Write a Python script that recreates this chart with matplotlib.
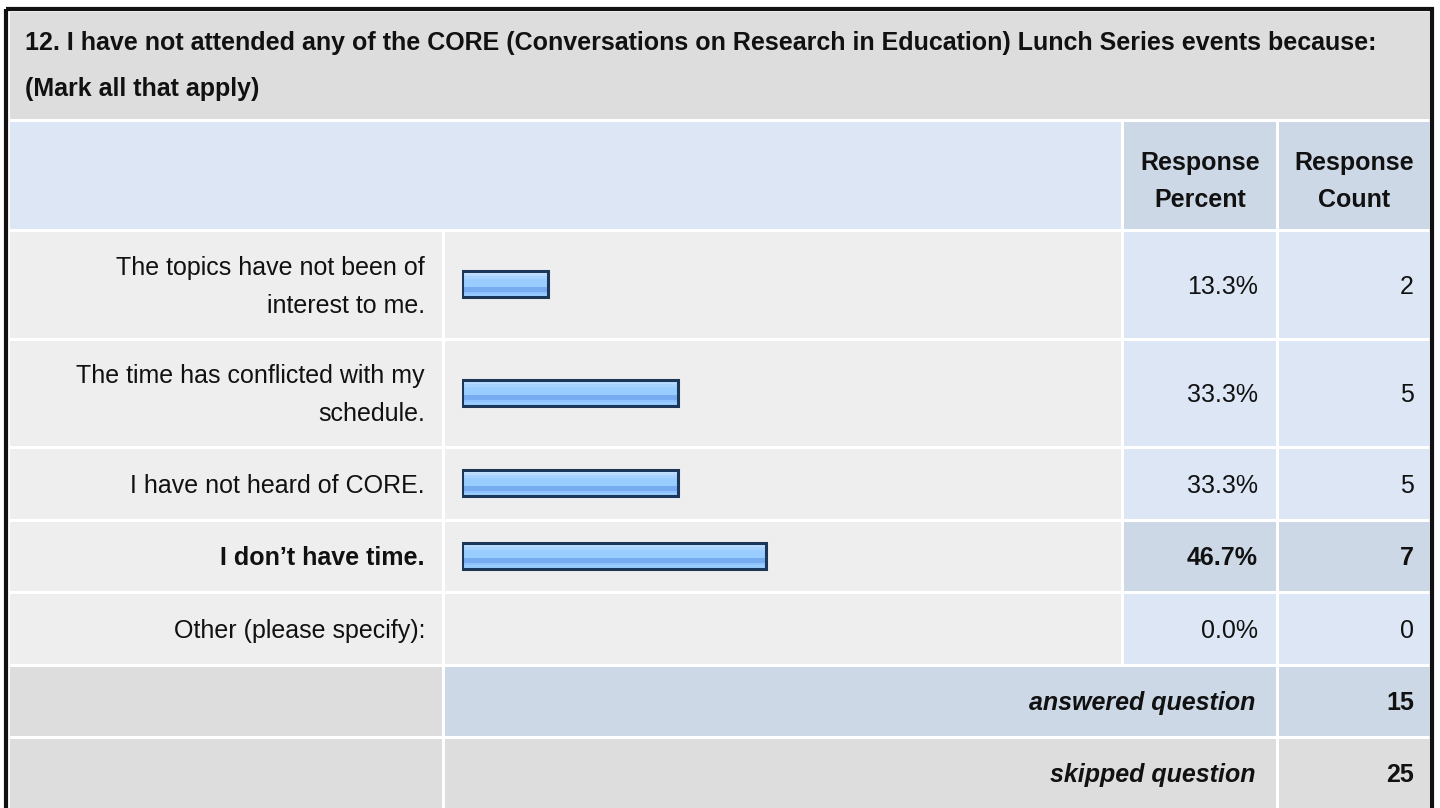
import numpy as np
import matplotlib
matplotlib.use("Agg")
import matplotlib.pyplot as plt
from matplotlib.patches import Rectangle

plt.rcParams['font.family'] = ['Liberation Sans', 'DejaVu Sans']

# data
title_lines = ["12. I have not attended any of the CORE (Conversations on Research in Education) Lunch Series events because:",
               "(Mark all that apply)"]
answers = ["The topics have not been of\ninterest to me.",
           "The time has conflicted with my\nschedule.",
           "I have not heard of CORE.",
           "I don\u2019t have time.",
           "Other (please specify):"]
percents = [13.3, 33.3, 33.3, 46.7, 0.0]
counts = [2, 5, 5, 7, 0]
answered = 15
skipped = 25

FS = 18
CAP = 0.716 * FS / 0.72  # cap height in px

W, H = 1440, 808
fig = plt.figure(figsize=(14.4, 8.08), dpi=100)
fig.patch.set_facecolor('white')
ax = fig.add_axes([0, 0, 1, 1])
ax.set_xlim(0, W)
ax.set_ylim(H, 0)
ax.axis('off')

GRAY = '#dddddd'
LIGHT = '#eeeeee'
BLUE = '#dce6f4'
BLUE2 = '#ccd8e6'

# column edges
cols = [(10, 442), (445, 1121), (1124, 1276), (1279, 1430)]
# row edges
title_row = (12, 119)
head_row = (122, 229)
rows = [(232, 338), (341, 446), (449, 519), (522, 591), (594, 664)]
ans_row = (667, 736)
skip_row = (739, 808)
best = int(np.argmax(percents))


def cell(x0, x1, y0, y1, color):
    ax.add_patch(Rectangle((x0, y0), x1 - x0, y1 - y0, facecolor=color, edgecolor='none'))


def put(x, yc, s, ha='right', **kw):
    ax.text(x, yc + CAP / 2, s, ha=ha, va='baseline', fontsize=FS, color='#111111', **kw)


# outer frame
ax.add_patch(Rectangle((6, 9), 1426, 820, facecolor='none', edgecolor='#111111', linewidth=3))

# title
cell(10, 1430, *title_row, GRAY)
for i, line in enumerate(title_lines):
    ax.text(25, 50 + i * 46, line, ha='left', va='baseline', fontsize=FS, fontweight='bold', color='#111111')

# header
cell(10, 1121, *head_row, BLUE)
cell(*cols[2], *head_row, BLUE2)
cell(*cols[3], *head_row, BLUE2)
for (x0, x1), txt in zip(cols[2:], ["Response\nPercent", "Response\nCount"]):
    for j, line in enumerate(txt.split('\n')):
        put((x0 + x1) / 2, 161 + j * 37, line, ha='center', fontweight='bold')

# answer rows
centers = []
for i, (y0, y1) in enumerate(rows):
    yc = (y0 + y1) / 2
    centers.append(yc)
    hi = (i == best)
    cell(*cols[0], y0, y1, LIGHT)
    cell(*cols[1], y0, y1, LIGHT)
    cell(*cols[2], y0, y1, BLUE2 if hi else BLUE)
    cell(*cols[3], y0, y1, BLUE2 if hi else BLUE)
    wt = 'bold' if hi else 'normal'
    lines = answers[i].split('\n')
    n = len(lines)
    for j, line in enumerate(lines):
        put(425, yc + (j - (n - 1) / 2) * 38, line, fontweight=wt)
    put(1258, yc, f"{percents[i]:.1f}%", fontweight=wt)
    put(1414, yc, str(counts[i]), fontweight=wt)

# summary rows
cell(*cols[0], *ans_row, GRAY)
cell(445, 1276, *ans_row, BLUE2)
cell(*cols[3], *ans_row, BLUE2)
yc = sum(ans_row) / 2
put(1255, yc, "answered question", fontweight='bold', fontstyle='italic')
put(1414, yc, str(answered), fontweight='bold')

cell(*cols[0], *skip_row, GRAY)
cell(445, 1276, *skip_row, GRAY)
cell(*cols[3], *skip_row, GRAY)
yc = sum(skip_row) / 2
put(1255, yc, "skipped question", fontweight='bold', fontstyle='italic')
put(1414, yc, str(skipped), fontweight='bold')

# bars: x in percent, y in pixels
bx = fig.add_axes([462 / W, 0, 650 / W, 1])
bx.patch.set_alpha(0)
bx.axis('off')
grad_colors = ['#c8e4ff', '#b8dcff', '#a8d2ff', '#9ccdff', '#99ccff', '#99ccff',
               '#78acf0', '#78acf0', '#8fc2ff', '#99ccff']
grad = np.array([matplotlib.colors.to_rgb(c) for c in grad_colors])[:, None, :]
bh = 26
for v, yc in zip(percents, centers):
    if v <= 0:
        continue
    bx.imshow(grad, extent=(0, v, yc - 1 + bh / 2, yc - 1 - bh / 2), aspect='auto',
              interpolation='nearest', origin='upper', zorder=2)
bars = bx.barh([c - 1 for c, v in zip(centers, percents) if v > 0],
               [v for v in percents if v > 0], height=bh, fill=False,
               edgecolor='#1c365a', linewidth=2.2, zorder=3)
bx.set_xlim(0, 100)
bx.set_ylim(H, 0)

fig.savefig('out.png', dpi=100)
